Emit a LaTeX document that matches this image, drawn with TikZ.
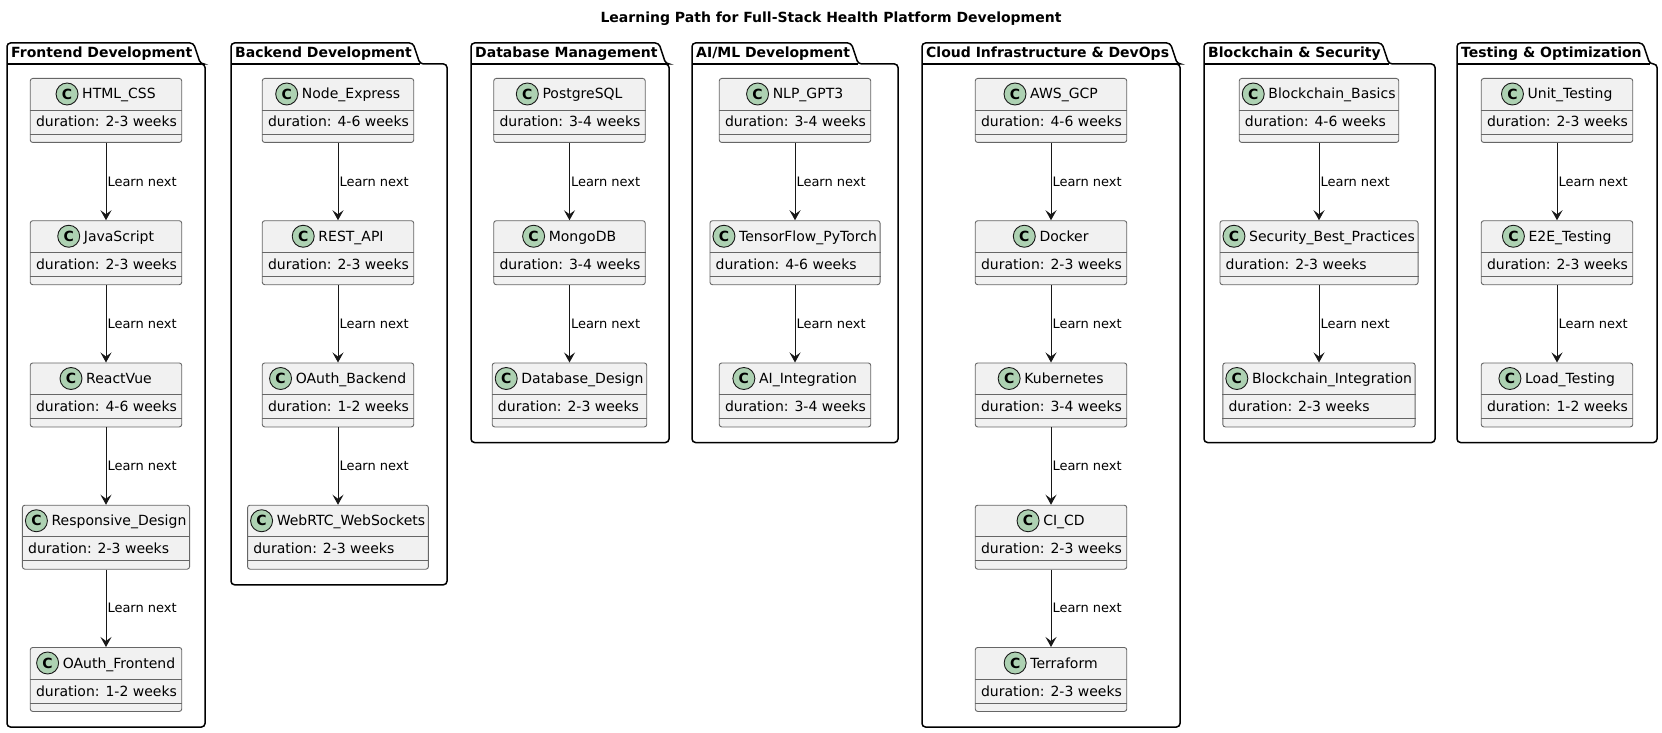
\documentclass[tikz,border=0pt]{standalone}
\usepackage{fontspec}
\setmainfont{DejaVu Sans}
\usetikzlibrary{arrows.meta,calc}
\definecolor{clsfill}{HTML}{F1F1F1}
\definecolor{circfill}{HTML}{ADD1B2}
\definecolor{ink}{HTML}{181818}
\pgfdeclarelayer{bg}
\pgfsetlayers{bg,main}
\newcommand\fxiv{\fontsize{14pt}{16pt}\selectfont}
\newcommand\fxiii{\fontsize{13pt}{15pt}\selectfont}
% class: id, cx, top, title, attribute
\newcommand\cls[5]{%
  \node[clstext, anchor=base] (#1-n) at ({#2+13},{#3+21}) {#4};
  \path let \p1=(#1-n.west) in node[circ] (#1-c) at ({\x1-15pt},{-(#3+16)*1pt}) {C};
  \begin{pgfonlayer}{bg}
  \path let \p1=(#1-n.west), \n1={min(\x1-29pt,(#2-75.75)*1pt)} in
    node[clsbox, minimum width={2*(#2-\n1)*1pt}, minimum height=64pt, anchor=north] (#1) at (#2,#3) {};
  \end{pgfonlayer}
  \path let \p1=(#1.north west) in node[clstext, anchor=base west] (#1-a) at ({\x1+6pt},{-(#3+49)*1pt}) {#5};
  \draw[clsline] ([yshift=-32pt]#1.north west) -- ([yshift=-32pt]#1.north east);
  \draw[clsline] ([yshift=-56pt]#1.north west) -- ([yshift=-56pt]#1.north east);
}
% package: id, left, right, bottom, label
\newcommand\pkg[5]{%
  \node[pkgtext] (#1) at ({#2+4},58) {#5};
  \draw[pkgline] let \p1=(#1.east) in
    (#2,64) -- (#2,43) -- ({\x1+1pt},{-43pt}) -- ({\x1+8pt},{-64pt}) -- (#3,64) -- (#3,#4) -- (#2,#4) -- cycle;
  \draw[pkgline, rounded corners=0pt] let \p1=(#1.east) in (#2,64) -- ({\x1+8pt},{-64pt});
}
\tikzset{
  clsbox/.style={draw=black!60, line width=0.9pt, fill=clsfill, rounded corners=2.5pt, inner sep=0pt},
  clsline/.style={draw=black!60, line width=0.9pt},
  circ/.style={circle, draw=ink, line width=0.9pt, fill=circfill, minimum size=22pt, inner sep=0pt, font=\bfseries\fxiv},
  clstext/.style={inner sep=0pt, font=\fxiv, text=black},
  pkgline/.style={draw=black, line width=1.5pt, rounded corners=3.5pt},
  pkgtext/.style={anchor=base west, inner sep=0pt, font=\bfseries\fxiv},
  arr/.style={draw=ink, line width=1pt, -{Stealth[length=10pt, width=11pt, inset=4pt]}},
  lbl/.style={midway, anchor=west, xshift=1pt, inner sep=0pt, font=\fxiii},
}
\begin{document}
\begin{tikzpicture}[x=1pt, y=-1pt]
\useasboundingbox (0,0) rectangle (1662,733);
\node[font=\bfseries\fxiv] (title) at (831,18.5) {Learning Path for Full-Stack Health Platform Development};

\pkg{pfront}{7}{205}{727}{Frontend Development}
\pkg{pback}{231}{447}{584.75}{Backend Development}
\pkg{pdb}{471}{669}{442.5}{Database Management}
\pkg{pai}{692}{898}{442.5}{AI/ML Development}
\pkg{pcloud}{922}{1180}{727}{Cloud Infrastructure \& DevOps}
\pkg{pblock}{1204}{1435}{442.5}{Blockchain \& Security}
\pkg{ptest}{1457}{1657}{442.5}{Testing \& Optimization}

% Frontend
\cls{htmlcss}{106}{78}{HTML\_CSS}{duration: 2-3 weeks}
\cls{js}{106}{220.25}{JavaScript}{duration: 2-3 weeks}
\cls{react}{106}{362.5}{ReactVue}{duration: 4-6 weeks}
\cls{resp}{106}{504.75}{Responsive\_Design}{duration: 2-3 weeks}
\cls{oauthf}{106}{647}{OAuth\_Frontend}{duration: 1-2 weeks}
% Backend
\cls{node}{338}{78}{Node\_Express}{duration: 4-6 weeks}
\cls{rest}{338}{220.25}{REST\_API}{duration: 2-3 weeks}
\cls{oauthb}{338}{362.5}{OAuth\_Backend}{duration: 1-2 weeks}
\cls{webrtc}{338}{504.75}{WebRTC\_WebSockets}{duration: 2-3 weeks}
% Database
\cls{pg}{569.5}{78}{PostgreSQL}{duration: 3-4 weeks}
\cls{mongo}{569.5}{220.25}{MongoDB}{duration: 3-4 weeks}
\cls{dbd}{569.5}{362.5}{Database\_Design}{duration: 2-3 weeks}
% AI/ML
\cls{nlp}{795}{78}{NLP\_GPT3}{duration: 3-4 weeks}
\cls{tf}{795}{220.25}{TensorFlow\_PyTorch}{duration: 4-6 weeks}
\cls{aii}{795}{362.5}{AI\_Integration}{duration: 3-4 weeks}
% Cloud
\cls{aws}{1051}{78}{AWS\_GCP}{duration: 4-6 weeks}
\cls{docker}{1051}{220.25}{Docker}{duration: 2-3 weeks}
\cls{k8s}{1051}{362.5}{Kubernetes}{duration: 3-4 weeks}
\cls{cicd}{1051}{504.75}{CI\_CD}{duration: 2-3 weeks}
\cls{tfm}{1051}{647}{Terraform}{duration: 2-3 weeks}
% Blockchain
\cls{bb}{1319}{78}{Blockchain\_Basics}{duration: 4-6 weeks}
\cls{sec}{1319}{220.25}{Security\_Best\_Practices}{duration: 2-3 weeks}
\cls{bi}{1319}{362.5}{Blockchain\_Integration}{duration: 2-3 weeks}
% Testing
\cls{unit}{1557}{78}{Unit\_Testing}{duration: 2-3 weeks}
\cls{e2e}{1557}{220.25}{E2E\_Testing}{duration: 2-3 weeks}
\cls{load}{1557}{362.5}{Load\_Testing}{duration: 1-2 weeks}

\foreach \a/\b in {htmlcss/js, js/react, react/resp, resp/oauthf,
  node/rest, rest/oauthb, oauthb/webrtc,
  pg/mongo, mongo/dbd,
  nlp/tf, tf/aii,
  aws/docker, docker/k8s, k8s/cicd, cicd/tfm,
  bb/sec, sec/bi,
  unit/e2e, e2e/load}
  \draw[arr] (\a.south) -- node[lbl] {Learn next} (\b.north);
\end{tikzpicture}
\end{document}
